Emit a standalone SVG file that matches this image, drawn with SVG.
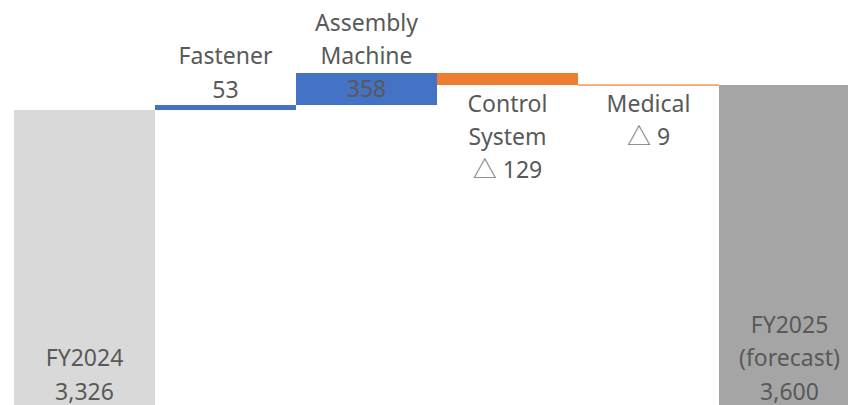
<svg xmlns="http://www.w3.org/2000/svg" width="848" height="405" viewBox="0 0 848 405">
  <style>
    .lbl { font-family: "Noto Sans", "DejaVu Sans", sans-serif; font-size: 23px; fill: #595959; text-anchor: middle; }
    .tri { font-family: "Noto Sans CJK JP", "DejaVu Sans", sans-serif; font-size: 24px; fill: #808080; }
    .total { fill: #D9D9D9; }
    .up { fill: #4472C4; }
    .down { fill: #ED7D31; }
    .fc { fill: #A5A5A5; }
  </style>
  <rect width="848" height="405" fill="#FFFFFF"/>

  <g id="fy2024">
    <rect class="total" x="14" y="110" width="141" height="295"/>
    <text class="lbl" x="84.5" y="366">FY2024</text>
    <text class="lbl" x="84.5" y="400">3,326</text>
  </g>

  <g id="fastener">
    <rect class="up" x="155" y="105" width="141" height="5"/>
    <text class="lbl" x="225.5" y="64">Fastener</text>
    <text class="lbl" x="225.5" y="98">53</text>
  </g>

  <g id="assembly-machine">
    <rect class="up" x="296" y="73" width="141" height="32"/>
    <text class="lbl" x="366.5" y="31">Assembly</text>
    <text class="lbl" x="366.5" y="64">Machine</text>
    <text class="lbl" x="366.5" y="97">358</text>
  </g>

  <g id="control-system">
    <rect class="down" x="437" y="73" width="141" height="12"/>
    <text class="lbl" x="507.5" y="112">Control</text>
    <text class="lbl" x="507.5" y="145">System</text>
    <text class="lbl" x="507.5" y="178"><tspan class="tri">△</tspan> 129</text>
  </g>

  <g id="medical">
    <rect class="down" x="578" y="84.5" width="141" height="1.2"/>
    <text class="lbl" x="648.5" y="112">Medical</text>
    <text class="lbl" x="648.5" y="145"><tspan class="tri">△</tspan> 9</text>
  </g>

  <g id="fy2025">
    <rect class="fc" x="719" y="85" width="141" height="320"/>
    <text class="lbl" x="789.5" y="333">FY2025</text>
    <text class="lbl" x="789.5" y="366">(forecast)</text>
    <text class="lbl" x="789.5" y="400">3,600</text>
  </g>

  <g id="connectors"/>
</svg>
